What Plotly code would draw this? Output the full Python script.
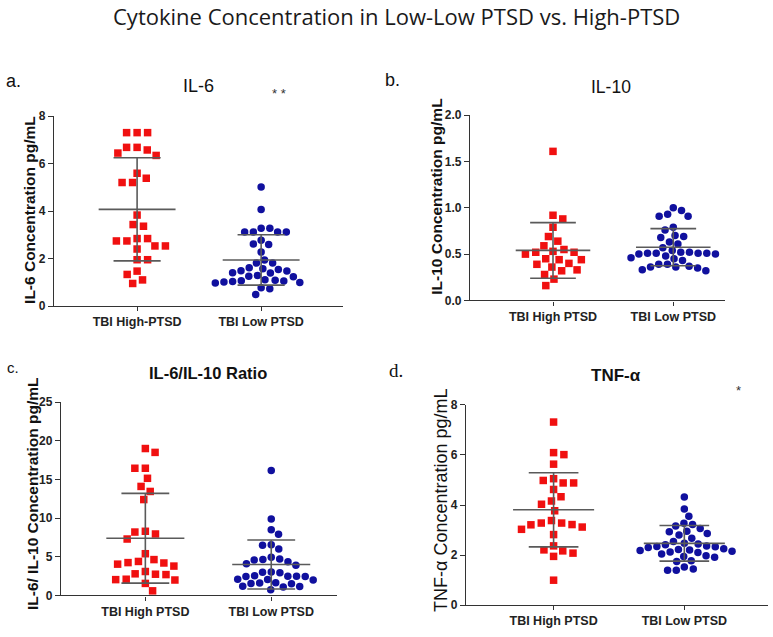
import math
import plotly.graph_objects as go

# ---------------- data ----------------
GROUPS_A = ["TBI High-PTSD", "TBI Low PTSD"]
GROUPS = ["TBI High PTSD", "TBI Low PTSD"]

IL6_HIGH = [7.31, 7.31, 7.31, 6.69, 6.69, 6.58, 6.45, 6.35, 5.60, 5.39, 5.21, 5.21,
            3.84, 3.44, 3.37, 2.85, 2.85, 2.75, 2.75, 2.54, 2.54, 2.41, 1.96, 1.96,
            1.48, 1.34, 1.11, 0.96]
IL6_LOW = [5.02, 4.07, 3.29, 3.29, 3.13, 3.13, 3.13, 3.13, 2.78, 2.62, 2.60, 2.28,
           1.95, 1.82, 1.82, 1.62, 1.58, 1.55, 1.50, 1.48, 1.41, 1.40, 1.30, 1.26,
           1.24, 1.12, 1.10, 1.08, 1.06, 1.04, 1.02, 1.00, 0.98, 0.78, 0.74, 0.50]
IL6_MEAN = [4.08, 1.95]
IL6_SD = [2.17, 1.06]

IL10_HIGH = [1.61, 0.92, 0.88, 0.79, 0.69, 0.64, 0.59, 0.55, 0.53, 0.52, 0.52, 0.50,
             0.45, 0.44, 0.44, 0.40, 0.39, 0.36, 0.33, 0.32, 0.28, 0.23, 0.16]
IL10_LOW = [1.00, 0.97, 0.93, 0.91, 0.91, 0.79, 0.76, 0.70, 0.69, 0.68, 0.63, 0.61,
            0.57, 0.54, 0.52, 0.52, 0.51, 0.51, 0.51, 0.51, 0.50, 0.50, 0.48, 0.46,
            0.45, 0.43, 0.39, 0.39, 0.37, 0.36, 0.36, 0.35, 0.33, 0.32]
IL10_MEAN = [0.54, 0.575]
IL10_SD = [0.30, 0.20]

RATIO_HIGH = [19.0, 18.5, 16.45, 16.45, 15.15, 14.1, 13.45, 12.4, 8.3, 8.2, 7.95, 7.3,
              5.4, 4.64, 4.4, 4.25, 4.2, 4.05, 3.8, 3.1, 2.8, 2.75, 2.7, 2.1, 2.05,
              2.0, 1.56, 0.6]
RATIO_LOW = [16.15, 9.9, 8.5, 7.9, 6.55, 6.5, 6.0, 4.95, 4.7, 4.65, 4.6, 4.35, 4.1,
             3.9, 3.05, 3.0, 2.95, 2.55, 2.5, 2.5, 2.45, 2.45, 2.1, 2.05, 2.0, 1.65,
             1.6, 1.55, 1.5, 1.2, 1.15, 1.1, 0.75]
RATIO_MEAN = [7.4, 4.0]
RATIO_SD = [5.8, 3.17]

TNF_HIGH = [7.31, 6.09, 6.01, 5.63, 5.05, 4.98, 4.88, 4.88, 4.62, 4.33, 4.16, 4.03,
            3.77, 3.38, 3.28, 3.28, 3.22, 3.21, 3.12, 3.03, 2.82, 2.37, 2.21, 2.17,
            2.08, 1.95, 1.00]
TNF_LOW = [4.32, 3.84, 3.55, 3.27, 3.22, 3.16, 3.06, 2.95, 2.93, 2.86, 2.80, 2.67,
           2.54, 2.47, 2.44, 2.41, 2.36, 2.34, 2.33, 2.30, 2.25, 2.22, 2.20, 2.18,
           2.15, 2.12, 2.10, 2.05, 1.98, 1.95, 1.92, 1.78, 1.75, 1.53, 1.45, 1.40, 1.40]
TNF_MEAN = [3.81, 2.47]
TNF_SD = [1.48, 0.71]

IL6_TICKS = [0, 2, 4, 6, 8]
IL10_TICKS = [0.0, 0.5, 1.0, 1.5, 2.0]
RATIO_TICKS = [0, 5, 10, 15, 20, 25]
TNF_TICKS = [0, 2, 4, 6, 8]

# ---------------- layout geometry ----------------
W, H = 773, 637
RED = "#f01010"
BLUE = "#10109e"
LINE = "#5a5a5a"
AX = "#333333"
FONT = "Liberation Sans"

panels = [
    dict(high=IL6_HIGH, low=IL6_LOW, mean=IL6_MEAN, sd=IL6_SD, ticks=IL6_TICKS,
         fmt="{:g}", cats=GROUPS_A, xpx=(54, 343), xr=(-0.67, 1.66), ypx=(111.7, 306)),
    dict(high=IL10_HIGH, low=IL10_LOW, mean=IL10_MEAN, sd=IL10_SD, ticks=IL10_TICKS,
         fmt="{:.1f}", cats=GROUPS, xpx=(470, 725), xr=(-0.69, 1.43), ypx=(110.7, 300)),
    dict(high=RATIO_HIGH, low=RATIO_LOW, mean=RATIO_MEAN, sd=RATIO_SD, ticks=RATIO_TICKS,
         fmt="{:g}", cats=GROUPS, xpx=(61, 336.7), xr=(-0.67, 1.52), ypx=(404, 601.7)),
    dict(high=TNF_HIGH, low=TNF_LOW, mean=TNF_MEAN, sd=TNF_SD, ticks=TNF_TICKS,
         fmt="{:g}", cats=GROUPS, xpx=(466, 768), xr=(-0.67, 1.64), ypx=(406.7, 611.7)),
]


def swarm(values, py, dist):
    """Beeswarm offsets (pixels) for values, py = pixels per data unit."""
    order = sorted(range(len(values)), key=lambda i: -values[i])
    placed = []
    offs = [0.0] * len(values)
    flip = 1
    for i in order:
        y = values[i] * py
        blocks = []
        for (yy, xx) in placed:
            dy = abs(y - yy)
            if dy < dist:
                w = math.sqrt(dist * dist - dy * dy)
                blocks.append((xx - w, xx + w))
        cands = [0.0]
        for a, b in blocks:
            cands += [a, b]
        ok = [c for c in cands if all(not (a + 1e-6 < c < b - 1e-6) for a, b in blocks)]
        best = min(abs(c) for c in ok)
        choices = [c for c in ok if abs(abs(c) - best) < 1e-6]
        if len(choices) > 1:
            c = max(choices) if flip > 0 else min(choices)
            flip = -flip
        else:
            c = choices[0]
        offs[i] = c
        placed.append((y, c))
    return offs


fig = go.Figure()
layout = {}
for k, p in enumerate(panels):
    n = "" if k == 0 else str(k + 1)
    xa, ya = "x" + n, "y" + n
    x0, x1 = p["xpx"]
    y0, y1 = p["ypx"]
    ymax = p["ticks"][-1]
    pxc = (x1 - x0) / (p["xr"][1] - p["xr"][0])
    pyu = (y1 - y0) / ymax

    for ci, (vals, sym, col, size, dist) in enumerate(
            [(p["high"], "square", RED, 7.5, 10.5), (p["low"], "circle", BLUE, 7.5, 8.7)]):
        offs = swarm(vals, pyu, dist)
        fig.add_trace(go.Scatter(
            x=[ci + o / pxc for o in offs], y=vals, mode="markers",
            marker=dict(symbol=sym, color=col, size=size, line=dict(width=0)),
            xaxis=xa, yaxis=ya, cliponaxis=False, showlegend=False, hoverinfo="y"))

    lx, ly = [], []
    for ci in range(2):
        m, s = p["mean"][ci], p["sd"][ci]
        lx += [ci - 0.31, ci + 0.31, None, ci - 0.19, ci + 0.19, None,
               ci - 0.19, ci + 0.19, None, ci, ci, None]
        ly += [m, m, None, m + s, m + s, None, m - s, m - s, None, m - s, m + s, None]
    fig.add_trace(go.Scatter(x=lx, y=ly, mode="lines", line=dict(color=LINE, width=1.6),
                             xaxis=xa, yaxis=ya, cliponaxis=False, showlegend=False,
                             hoverinfo="skip"))

    layout["xaxis" + n] = dict(
        domain=[x0 / W, x1 / W], range=list(p["xr"]), anchor=ya,
        tickvals=[0, 1], ticktext=p["cats"], showline=True, linecolor=AX, linewidth=1.4,
        ticks="outside", ticklen=4, tickwidth=1.2, tickcolor=AX, showgrid=False,
        zeroline=False, tickfont=dict(family=FONT, size=12.5, color="#222", weight="bold"))
    layout["yaxis" + n] = dict(
        domain=[1 - y1 / H, 1 - y0 / H], range=[0, ymax], anchor=xa,
        tickvals=p["ticks"], ticktext=[p["fmt"].format(t) for t in p["ticks"]],
        showline=True, linecolor=AX, linewidth=1.4, ticks="outside", ticklen=5,
        tickwidth=1.2, tickcolor=AX, showgrid=False, zeroline=False,
        tickfont=dict(family=FONT, size=12, color="#222", weight="bold"))


def ann(text, x, y, size, weight="normal", family=FONT, angle=0, color="#111"):
    return dict(text=text, x=x / W, y=1 - y / H, xref="paper", yref="paper",
                showarrow=False, xanchor="center", yanchor="middle", textangle=angle,
                font=dict(family=family, size=size, color=color, weight=weight))


annotations = [
    ann("Cytokine Concentration in Low-Low PTSD vs. High-PTSD", 397, 9, 22,
        family="Open Sans", color="#1a1a1a"),
    ann("a.", 14, 76, 18), ann("b.", 392, 75, 18), ann("c.", 13, 369, 15),
    ann("d.", 396, 372, 19, family="Liberation Serif"),
    ann("IL-6", 198, 81, 18), ann("IL-10", 611, 82, 17.5),
    ann("IL-6/IL-10 Ratio", 208, 374, 16.5, weight="bold"),
    ann("TNF-α", 616, 377, 17, weight="bold"),
    ann("* *", 279, 88, 13, color="#333"), ann("*", 738, 392, 13, color="#333"),
    ann("IL-6 Concentration pg/mL", 29.5, 208, 15.5, weight="bold", angle=-90),
    ann("IL-10 Concentration pg/mL", 437, 194, 15.5, weight="bold", angle=-90),
    ann("IL-6/ IL-10 Concentration pg/mL", 32, 498, 15.5, weight="bold", angle=-90),
    ann("TNF-α Concentration pg/mL", 441, 504, 18, angle=-90),
]

fig.update_layout(width=W, height=H, margin=dict(l=0, r=0, t=0, b=0),
                  paper_bgcolor="white", plot_bgcolor="white",
                  annotations=annotations, **layout)
fig.write_html("out.html", config={"displayModeBar": False},
               post_script="document.body.style.margin='0';document.body.style.overflow='hidden';")
